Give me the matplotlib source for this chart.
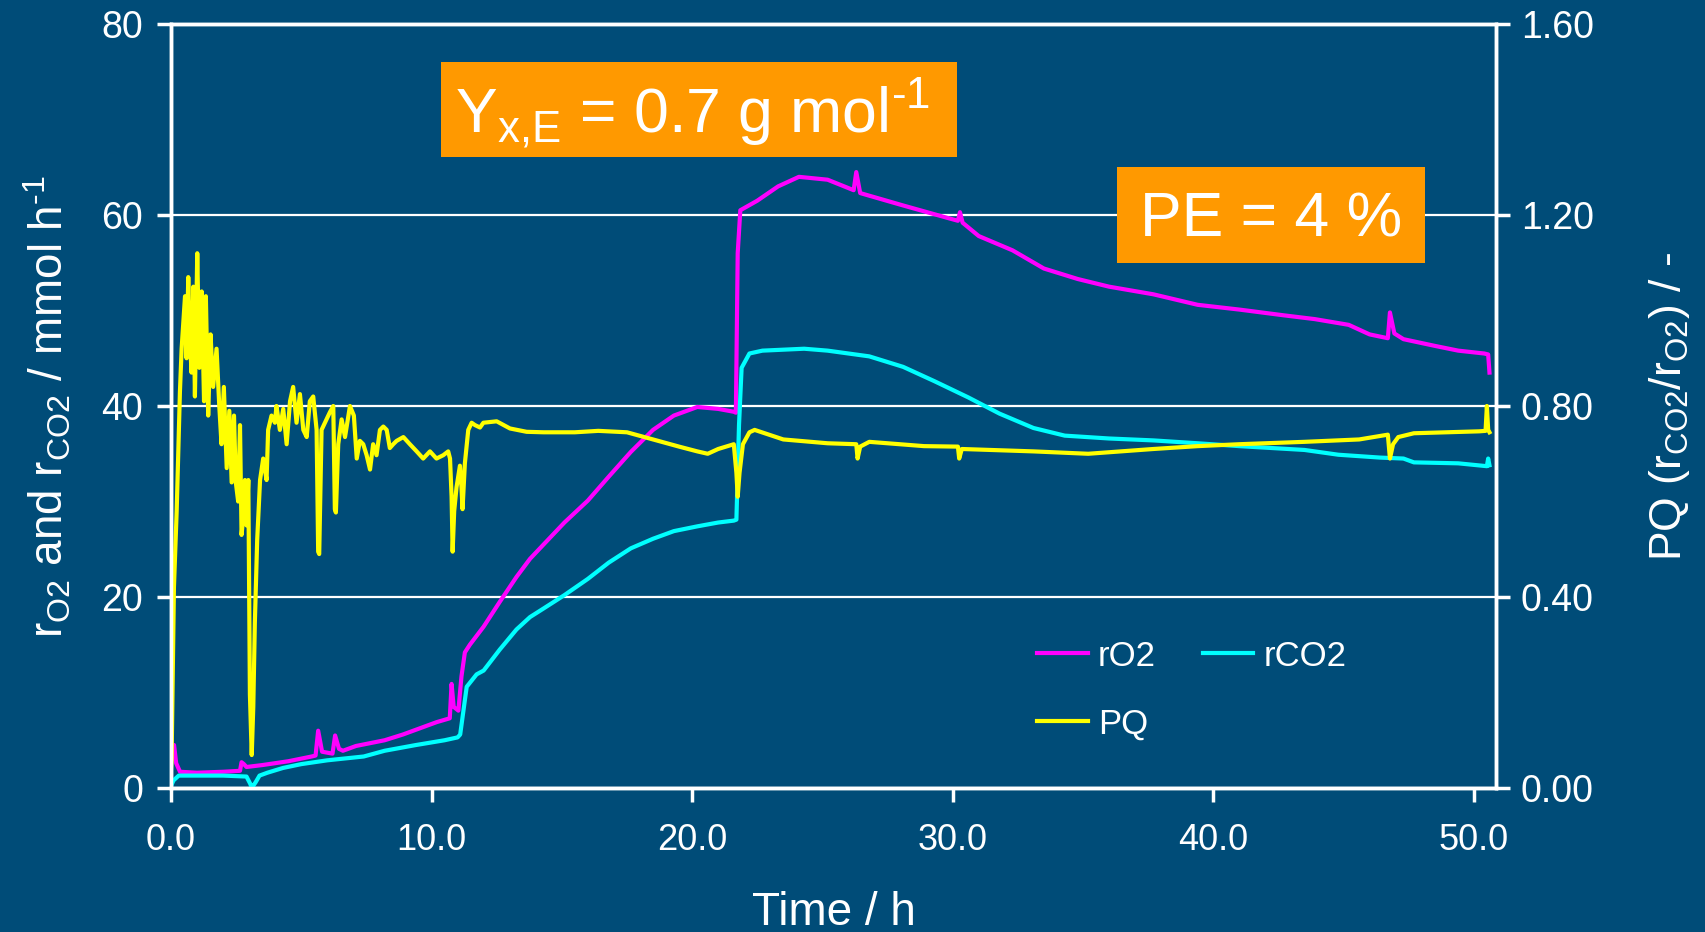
import numpy as np
import matplotlib
matplotlib.use("Agg")
import matplotlib.pyplot as plt
from matplotlib.patches import Rectangle

plt.rcParams['font.family'] = ['Liberation Sans', 'DejaVu Sans']
plt.rcParams['mathtext.fontset'] = 'custom'
plt.rcParams['mathtext.rm'] = 'Liberation Sans'
plt.rcParams['mathtext.it'] = 'Liberation Sans:italic'

# rO2 / mmol h-1
t_o2 = [0.0, 0.12, 0.2, 0.35, 1.0, 2.0, 2.65, 2.71, 2.8, 2.9, 3.5, 4.5, 5.4, 5.55, 5.65, 5.8,
        6.2, 6.3, 6.45, 6.6, 7.1, 8.2, 8.9, 9.7, 10.2, 10.7, 10.77, 10.85, 11.03, 11.15, 11.28,
        11.47, 12.0, 12.62, 13.26, 13.78, 14.3, 15.1, 16.0, 16.8, 17.65, 18.5, 19.3, 20.2, 21.0,
        21.6, 21.68, 21.75, 21.85, 22.5, 23.3, 24.1, 25.2, 26.2, 26.3, 26.45, 28.1, 29.8, 30.2,
        30.28, 30.38, 31.0, 32.3, 33.5, 34.8, 36.0, 37.7, 39.4, 41.0, 42.7, 43.9, 45.2, 46.0,
        46.7, 46.78, 46.95, 47.3, 48.5, 49.4, 50.4, 50.55, 50.6]
r_o2 = [2.8, 4.5, 2.6, 1.7, 1.6, 1.7, 1.8, 2.7, 2.5, 2.2, 2.4, 2.8, 3.3, 3.4, 6.0, 3.8,
        3.6, 5.5, 4.1, 3.9, 4.4, 5.0, 5.6, 6.4, 6.9, 7.3, 10.9, 8.5, 8.1, 11.7, 14.2,
        15.0, 16.9, 19.5, 22.1, 24.0, 25.5, 27.8, 30.1, 32.6, 35.2, 37.5, 39.0, 39.9, 39.7,
        39.4, 39.3, 56.0, 60.5, 61.5, 63.0, 64.0, 63.7, 62.6, 64.5, 62.3, 61.0, 59.7, 59.4,
        60.3, 59.2, 57.8, 56.3, 54.4, 53.3, 52.5, 51.7, 50.6, 50.1, 49.5, 49.1, 48.5, 47.5,
        47.1, 49.8, 47.6, 47.0, 46.3, 45.8, 45.5, 45.4, 43.5]

# rCO2 / mmol h-1
t_co2 = [0.0, 0.1, 0.3, 1.0, 2.0, 2.9, 3.05, 3.1, 3.25, 3.4, 3.7, 4.3, 5.0, 6.0, 7.4, 8.2,
         9.4, 10.5, 11.0, 11.1, 11.22, 11.35, 11.73, 12.0, 12.62, 13.26, 13.78, 14.3, 15.1,
         16.0, 16.8, 17.65, 18.5, 19.3, 20.2, 21.0, 21.6, 21.7, 21.8, 21.9, 22.2, 22.7, 24.3,
         25.2, 26.8, 28.1, 29.3, 30.6, 31.8, 33.1, 34.3, 36.0, 37.7, 39.4, 41.0, 43.5, 44.8,
         46.4, 47.3, 47.7, 49.4, 50.5, 50.55, 50.6]
r_co2 = [0.2, 0.8, 1.3, 1.3, 1.3, 1.2, 0.4, 0.0, 0.6, 1.3, 1.6, 2.1, 2.5, 2.9, 3.3, 3.9,
         4.5, 5.0, 5.3, 5.6, 8.0, 10.6, 11.9, 12.3, 14.5, 16.6, 17.9, 18.8, 20.2,
         21.9, 23.6, 25.1, 26.1, 26.9, 27.4, 27.8, 28.0, 28.1, 38.0, 44.0, 45.5, 45.8, 46.0,
         45.8, 45.2, 44.1, 42.6, 40.9, 39.2, 37.7, 36.9, 36.6, 36.4, 36.1, 35.8, 35.4, 34.9,
         34.6, 34.5, 34.1, 34.0, 33.7, 34.5, 33.8]

# PQ (rCO2/rO2) / -
t_pq = [0.0, 0.025, 0.115, 0.22, 0.345, 0.41, 0.54, 0.60, 0.665, 0.72, 0.79, 0.86, 0.92, 1.01,
        1.09, 1.18, 1.27, 1.34, 1.43, 1.52, 1.62, 1.75, 1.855, 1.94, 2.03, 2.14, 2.24, 2.33,
        2.42, 2.49, 2.58, 2.65, 2.71, 2.78, 2.84, 2.90, 2.97, 3.03, 3.10, 3.16, 3.22, 3.31,
        3.42, 3.54, 3.67, 3.73, 3.86, 3.99, 4.05, 4.18, 4.31, 4.44, 4.57, 4.69, 4.82, 4.95,
        5.08, 5.21, 5.33, 5.46, 5.59, 5.65, 5.69, 5.78, 5.91, 6.10, 6.23, 6.29, 6.33, 6.42,
        6.55, 6.68, 6.87, 7.02, 7.13, 7.25, 7.38, 7.51, 7.64, 7.76, 7.89, 8.02, 8.15, 8.28,
        8.40, 8.53, 8.66, 8.92, 9.17, 9.43, 9.68, 9.94, 10.19, 10.45, 10.64, 10.71, 10.77,
        10.81, 10.87, 10.96, 11.09, 11.15, 11.19, 11.28, 11.41, 11.54, 11.67, 11.86, 11.99,
        12.50, 13.01, 13.65, 14.3, 15.5, 16.4, 17.5, 18.5, 19.5, 20.2, 20.6, 21.0, 21.6, 21.7,
        21.75, 21.82, 21.95, 22.2, 22.4, 23.5, 25.2, 26.3, 26.35, 26.45, 26.8, 28.9, 30.2,
        30.25, 30.35, 33.1, 35.2, 37.7, 39.4, 41.0, 43.5, 45.6, 46.7, 46.78, 46.9, 47.1, 47.7,
        50.2, 50.45, 50.5, 50.55, 50.6]
pq = [0.04, 0.06, 0.42, 0.58, 0.83, 0.92, 1.03, 0.90, 1.07, 0.95, 0.87, 1.05, 0.82, 1.12,
      0.88, 1.04, 0.81, 1.03, 0.78, 0.95, 0.84, 0.92, 0.80, 0.72, 0.84, 0.67, 0.79, 0.64,
      0.78, 0.64, 0.60, 0.76, 0.53, 0.57, 0.645, 0.55, 0.645, 0.196, 0.069, 0.17, 0.346, 0.52,
      0.645, 0.69, 0.645, 0.75, 0.78, 0.765, 0.80, 0.75, 0.794, 0.72, 0.81, 0.84, 0.765, 0.825,
      0.75, 0.735, 0.81, 0.82, 0.75, 0.495, 0.49, 0.75, 0.765, 0.787, 0.80, 0.584, 0.577, 0.72,
      0.772, 0.735, 0.80, 0.78, 0.69, 0.727, 0.72, 0.697, 0.667, 0.72, 0.697, 0.75, 0.757, 0.75,
      0.712, 0.72, 0.727, 0.735, 0.72, 0.705, 0.69, 0.705, 0.69, 0.697, 0.705, 0.69, 0.61,
      0.495, 0.58, 0.63, 0.675, 0.63, 0.584, 0.68, 0.75, 0.765, 0.76, 0.755, 0.765,
      0.768, 0.753, 0.746, 0.745, 0.745, 0.748, 0.745, 0.73, 0.715, 0.705, 0.70, 0.71, 0.72, 0.66,
      0.61, 0.66, 0.72, 0.745, 0.75, 0.73, 0.722, 0.72, 0.69, 0.715, 0.725, 0.716, 0.715,
      0.69, 0.71, 0.705, 0.70, 0.71, 0.716, 0.72, 0.725, 0.73, 0.74, 0.69, 0.72, 0.735, 0.743,
      0.747, 0.748, 0.80, 0.75, 0.745]

bg = '#004c78'
orange = '#ff9900'
white = 'white'

fig = plt.figure(figsize=(17.06, 9.32), dpi=100, facecolor=bg)
ax = fig.add_axes([0.1002, 0.1545, 0.7767, 0.8197], facecolor=bg)
ax2 = ax.twinx()

l1, = ax.plot(t_o2, r_o2, color='#ff00ff', lw=3.0, label='rO2', zorder=3)
l2, = ax.plot(t_co2, r_co2, color='#00ffff', lw=3.0, label='rCO2', zorder=3)
l3, = ax2.plot(t_pq, pq, color='#ffff00', lw=3.0, label='PQ', zorder=2)

ax.set_xlim(0, 50.85)
ax.set_ylim(0, 80)
ax2.set_ylim(0, 1.6)
ax.set_xticks([0, 10, 20, 30, 40, 50])
ax.set_xticklabels(['%.1f' % v for v in [0, 10, 20, 30, 40, 50]])
ax.set_yticks([0, 20, 40, 60, 80])
ax2.set_yticks([0, 0.4, 0.8, 1.2, 1.6])
ax2.set_yticklabels(['%.2f' % v for v in [0, 0.4, 0.8, 1.2, 1.6]])

ax.grid(axis='y', color=white, lw=1.6)
ax.set_axisbelow(True)
for a in (ax, ax2):
    for s in a.spines.values():
        s.set_color(white)
        s.set_linewidth(2.5)
ax.tick_params(axis='x', colors=white, labelsize=26, length=10, width=2.5, pad=15)
ax.tick_params(axis='y', colors=white, labelsize=27, length=10, width=2.5, pad=10)
ax2.tick_params(axis='y', colors=white, labelsize=27, length=10, width=2.5, pad=8)

ax.set_xlabel('Time / h', color=white, fontsize=33, labelpad=24)
ax.set_ylabel('r$_{\\mathregular{O2}}$ and r$_{\\mathregular{CO2}}$ / mmol h$^{\\mathregular{\u2010 1}}$',
              color=white, fontsize=33, labelpad=20)
ax2.set_ylabel(r'PQ (r$_{\mathregular{CO2}}$/r$_{\mathregular{O2}}$) / -', color=white,
               fontsize=32, labelpad=38)

leg = fig.legend([l1, l3, l2], ['rO2', 'PQ', 'rCO2'], ncol=2, loc='center',
                 bbox_to_anchor=(0.6987, 0.2597), frameon=False, fontsize=25,
                 handlelength=1.45, handletextpad=0.3, columnspacing=1.35, labelspacing=1.0)
for txt in leg.get_texts():
    txt.set_color(white)

fig.patches.append(Rectangle((0.2585, 0.8315), 0.3025, 0.1019, transform=fig.transFigure,
                             facecolor=orange, edgecolor='none', zorder=5))
fig.patches.append(Rectangle((0.6548, 0.7178), 0.1805, 0.1030, transform=fig.transFigure,
                             facecolor=orange, edgecolor='none', zorder=5))
fig.text(0.406, 0.878, 'Y$_{\\mathregular{x{,}E}}$ = 0.7 g mol$^{\\mathregular{\u2010 1}}$', color=white,
         fontsize=45, ha='center', va='center', zorder=6)
fig.text(0.745, 0.764, 'PE = 4 %', color=white, fontsize=45, ha='center', va='center', zorder=6)

fig.savefig('out.png', dpi=100, facecolor=bg)
